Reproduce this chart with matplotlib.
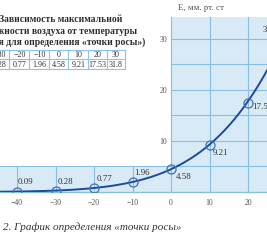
import numpy as np
import matplotlib
matplotlib.use("Agg")
import matplotlib.pyplot as plt

# values
temps = [-40, -30, -20, -10, 0, 10, 20, 30]
e_values = [0.09, 0.28, 0.77, 1.96, 4.58, 9.21, 17.53, 31.8]
e_labels = ["0.09", "0.28", "0.77", "1.96", "4.58", "9.21", "17.53", "31.8"]
x_ticks = [-40, -30, -20, -10, 0, 10, 20]
y_ticks = [10, 20, 30]

title_lines = ["Зависимость максимальной",
               "влажности воздуха от температуры",
               "(кривая для определения «точки росы»)"]
y_title = "E, мм. рт. ст"
caption = "2. График определения «точки росы»"

W, H = 267, 243
fill = "#d9eaf7"
grid = "#86bfe3"
curve = "#1d4b9b"
ink = "#333333"
plt.rcParams["font.family"] = ["Liberation Serif", "DejaVu Serif"]

fig = plt.figure(figsize=(W / 100, H / 100), dpi=100)

# main axes, placed so that the data fits the scanned crop
x0, x1, y0, y1 = -45, 32, 0, 34.3
px = lambda x: 171 + 3.85 * x
py_bottom, py_top = 192, 17
ax = fig.add_axes([px(x0) / W, (H - py_bottom) / H,
                   (px(x1) - px(x0)) / W, (py_bottom - py_top) / H])
ax.set_xlim(x0, x1)
ax.set_ylim(y0, y1)
ax.set_facecolor("none")

# blue background areas
ax.axhspan(0, 5, color=fill, lw=0, zorder=0)
ax.fill_between([0, x1], 5, y1, color=fill, lw=0, zorder=0)

# grid
for t in temps:
    top = y1 if t >= 0 else 5
    ax.plot([t, t], [0, top], color=grid, lw=0.8, zorder=1)
for v in range(5, 35, 5):
    left = x0 if v == 5 else 0
    ax.plot([left, x1], [v, v], color=grid, lw=0.8, zorder=1)

# smooth line through the points (log space)
coef = np.polyfit(temps, np.log(e_values), 3)
tt = np.linspace(x0, 31, 300)
ax.plot(tt, np.exp(np.polyval(coef, tt)), color=curve, lw=1.4, zorder=3)
ax.plot(temps, e_values, "o", ms=6.5, mfc="none", mec="#3f6fb5", mew=0.9,
        zorder=4)

offsets = [(1, 10), (2, 9), (3, 9), (2, 9), (5, -8), (3, -8), (4, -4), (-8, 0)]
for t, v, lab, (dx, dy) in zip(temps, e_values, e_labels, offsets):
    ha = "right" if dx < 0 else "left"
    ax.annotate(lab, (t, v), xytext=(dx, dy), textcoords="offset pixels",
                ha=ha, va="center", fontsize=6.4, color=ink, zorder=5,
                annotation_clip=False)

# axes styling
for s in ["top", "right", "left"]:
    ax.spines[s].set_visible(False)
ax.spines["bottom"].set_color(grid)
ax.spines["bottom"].set_linewidth(1.0)
ax.spines["left"].set_position(("data", 0))
ax.set_xticks(x_ticks)
ax.set_xticklabels([f"{t}".replace("-", "\u2212") for t in x_ticks])
ax.set_yticks(y_ticks)
ax.tick_params(axis="both", length=0, labelsize=5.6, colors="#555555")
ax.tick_params(axis="x", pad=5)
ax.tick_params(axis="y", pad=3)
ax.text(1.8, 1.03, y_title, transform=ax.get_xaxis_transform(),
        ha="left", va="bottom", fontsize=6.4, color="#555555")

# overlay in pixel coordinates for title, table and caption
ov = fig.add_axes([0, 0, 1, 1])
ov.set_xlim(0, W)
ov.set_ylim(H, 0)
ov.axis("off")
ov.patch.set_alpha(0)

title_right = [122, 137, 145]
title_y = [20, 31, 42]
for line, xr, yy in zip(title_lines, title_right, title_y):
    ov.text(xr, yy, line, ha="right", va="center", fontsize=6.9,
            fontweight="bold", color="#2e2e2e")

# table
col_right = [-10, 9, 29, 49, 68, 88, 107, 125]
col_w = 19.4
row_y = [50, 59.5, 69]
tab_c = "#8cc3e6"
for yy in row_y:
    ov.plot([-40, col_right[-1]], [yy, yy], color=tab_c, lw=0.8)
for xr in col_right:
    ov.plot([xr, xr], [row_y[0], row_y[-1]], color=tab_c, lw=0.8)
for t, lab, xr in zip(temps, e_labels, col_right):
    xc = xr - col_w / 2
    ov.text(xc, 55, f"{t}".replace("-", "\u2212"), ha="center", va="center",
            fontsize=5.8, color=ink)
    ov.text(xc, 64.5, lab, ha="center", va="center", fontsize=5.8, color=ink)

ov.text(3, 227, caption, ha="left", va="center", fontsize=8,
        style="italic", color="#333333")

fig.savefig("out.png", dpi=100)
